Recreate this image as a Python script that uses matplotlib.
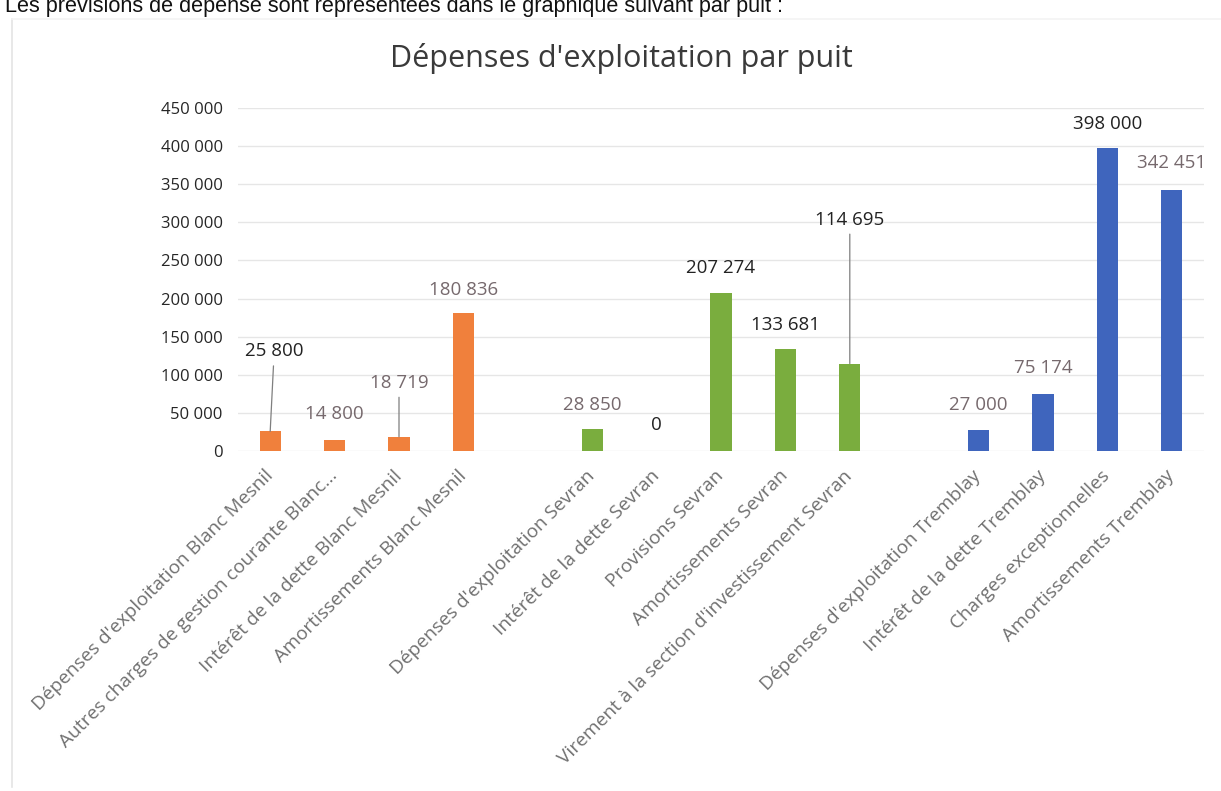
import matplotlib
matplotlib.use("Agg")
import matplotlib.pyplot as plt
from matplotlib.lines import Line2D

# --- data -------------------------------------------------------------
blanc_mesnil_labels = [
    "Dépenses d'exploitation Blanc Mesnil",
    "Autres charges de gestion courante Blanc...",
    "Intérêt de la dette Blanc Mesnil",
    "Amortissements Blanc Mesnil",
]
blanc_mesnil_values = [25800, 14800, 18719, 180836]

sevran_labels = [
    "Dépenses d'exploitation Sevran",
    "Intérêt de la dette Sevran",
    "Provisions Sevran",
    "Amortissements Sevran",
    "Virement à la section d'investissement Sevran",
]
sevran_values = [28850, 0, 207274, 133681, 114695]

tremblay_labels = [
    "Dépenses d'exploitation Tremblay",
    "Intérêt de la dette Tremblay",
    "Charges exceptionnelles",
    "Amortissements Tremblay",
]
tremblay_values = [27000, 75174, 398000, 342451]

y_ticks = [0, 50000, 100000, 150000, 200000, 250000, 300000, 350000, 400000, 450000]
y_tick_labels = ["0", "50 000", "100 000", "150 000", "200 000", "250 000",
                 "300 000", "350 000", "400 000", "450 000"]

title = "Dépenses d'exploitation par puit"
intro = "Les prévisions de dépense sont représentées dans le graphique suivant par puit :"

# --- styling ----------------------------------------------------------
colors = ["#f0803c", "#7aad3e", "#3f65bd"]
dark_lbl = "#222222"
soft_lbl = "#76696d"
# colour of each value label, and how far (px) its centre sits above the bar
label_colors = [
    [dark_lbl, soft_lbl, soft_lbl, soft_lbl],
    [soft_lbl, dark_lbl, dark_lbl, dark_lbl, dark_lbl],
    [soft_lbl, soft_lbl, dark_lbl, soft_lbl],
]
label_lift = [
    [80, 26, 54, 23],
    [24, 26, 25, 24, 144],
    [25, 26, 24, 27],
]
leader = [
    [True, False, True, False],
    [False, False, False, False, True],
    [False, False, False, False],
]

W, H, DPI = 1221, 791, 100
fig = plt.figure(figsize=(W / DPI, H / DPI), dpi=DPI)
fig.patch.set_facecolor("white")

# chart frame
fig.add_artist(Line2D([12 / W, 12 / W], [1 - 19 / H, 1 - 787 / H],
                      transform=fig.transFigure, color="#e4e4e4", lw=1.2))
fig.add_artist(Line2D([12 / W, 1.0], [1 - 19 / H, 1 - 19 / H],
                      transform=fig.transFigure, color="#f3f3f3", lw=1.2))

# sentence above the chart, running into the top edge of the page
fig.text(5 / W, 1 - 12 / H, intro, fontsize=15.6, family="Liberation Sans",
         color="#111111", ha="left", va="baseline")

ax = fig.add_axes([238 / W, 1 - 451 / H, (1204 - 238) / W, (451 - 108) / H])

groups = [
    (blanc_mesnil_labels, blanc_mesnil_values),
    (sevran_labels, sevran_values),
    (tremblay_labels, tremblay_values),
]

tick_pos, tick_lab = [], []
slot = 0
for g, (labels, values) in enumerate(groups):
    xs = list(range(slot, slot + len(values)))
    ax.bar(xs, values, width=0.33, color=colors[g], zorder=3)
    for i, (x, v) in enumerate(zip(xs, values)):
        txt = f"{v:,}".replace(",", " ")
        lift = label_lift[g][i]
        dx = 4 if (g == 0 and i == 0) else 0
        kw = dict(xy=(x, v), xytext=(dx, lift), textcoords="offset pixels",
                  ha="center", va="center", fontsize=13.5, family="Open Sans",
                  color=label_colors[g][i])
        if leader[g][i]:
            kw["arrowprops"] = dict(arrowstyle="-", color="#7f7f7f", lw=0.9,
                                    shrinkA=2, shrinkB=0)
        ax.annotate(txt, **kw)
    tick_pos += xs
    tick_lab += labels
    slot += len(values) + 1

ax.set_xlim(-0.5, slot - 1.5)
ax.set_ylim(0, 450000)
ax.set_yticks(y_ticks)
ax.set_yticklabels(y_tick_labels, family="Open Sans", fontsize=12, color="#262626")
ax.set_xticks(tick_pos)
ax.set_xticklabels(tick_lab, rotation=45, ha="right", va="center",
                   rotation_mode="anchor", family="Open Sans", fontsize=13.8,
                   color="#707070")
ax.tick_params(axis="both", length=0)
ax.tick_params(axis="y", pad=11)
ax.tick_params(axis="x", pad=16)
for s in ax.spines.values():
    s.set_visible(False)
ax.grid(axis="y", color="#e6e6e6", lw=1.0, zorder=0)
ax.set_axisbelow(True)

fig.text(621 / W, 1 - 58 / H, title, fontsize=22, family="Open Sans",
         color="#3a3a3a", ha="center", va="center")

fig.savefig("out.png", dpi=DPI)
